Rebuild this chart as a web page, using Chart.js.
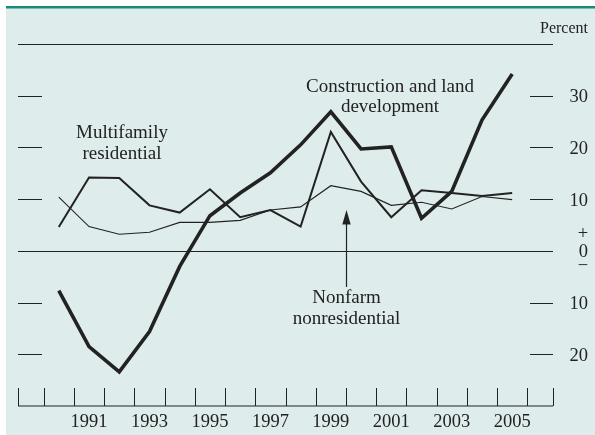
<!DOCTYPE html>
<html>
<head>
<meta charset="utf-8">
<script src="https://cdn.jsdelivr.net/npm/chart.js@4/dist/chart.umd.min.js"></script>
<style>
  html, body { margin: 0; padding: 0; background: #ffffff; }
  canvas { display: block; }
</style>
</head>
<body>
<canvas id="c" width="595" height="435"></canvas>
<script>
// ---- Data (percent change) ----
const years = [1990, 1991, 1992, 1993, 1994, 1995, 1996, 1997, 1998, 1999, 2000, 2001, 2002, 2003, 2004, 2005];
const constructionLand = [-7.7, -18.5, -23.4, -15.6, -3.0, 6.8, 11.2, 15.1, 20.5, 26.9, 19.7, 20.1, 6.3, 11.5, 25.3, 34.2];
const multifamily      = [4.6, 14.2, 14.1, 8.8, 7.4, 11.9, 6.5, 7.9, 4.7, 23.0, 13.4, 6.5, 11.7, 11.2, 10.6, 11.2];
const nonfarm          = [10.4, 4.7, 3.2, 3.6, 5.5, 5.5, 5.9, 7.9, 8.5, 12.6, 11.5, 8.8, 9.4, 8.1, 10.5, 9.9];

// ---- Tick labels ----
const xTickLabels = ['1991', '1993', '1995', '1997', '1999', '2001', '2003', '2005'];
const xTickBoundaries = [1989.5, 1990.5, 1991.5, 1992.5, 1993.5, 1994.5, 1995.5, 1996.5, 1997.5, 1998.5, 1999.5, 2000.5, 2001.5, 2002.5, 2003.5, 2004.5, 2005.5];
const yTickValues = [30, 20, 10, 0, -10, -20];
const yTickLabels = ['30', '20', '10', '0', '10', '20'];

const SERIF = '"Liberation Serif", "Times New Roman", serif';
const INK = '#222222';

function toPoints(vals) { return years.map((y, i) => ({ x: y, y: vals[i] })); }

const decor = {
  id: 'decor',
  beforeDraw(chart) {
    const ctx = chart.ctx;
    ctx.save();
    ctx.fillStyle = '#ffffff';
    ctx.fillRect(0, 0, chart.width, chart.height);
    ctx.fillStyle = '#dfecec';
    ctx.fillRect(6, 8, chart.width - 6, chart.height - 8);
    ctx.fillStyle = '#1b8c7a';
    ctx.fillRect(6, 6, chart.width - 6, 2.5);
    ctx.restore();
  },
  beforeDatasetsDraw(chart) {
    const ctx = chart.ctx;
    const xs = chart.scales.x, ys = chart.scales.y;
    const L = chart.chartArea.left, R = chart.chartArea.right;
    const T = chart.chartArea.top, B = chart.chartArea.bottom;
    ctx.save();
    ctx.strokeStyle = INK;
    ctx.lineWidth = 1.2;
    // top rule and zero line
    ctx.beginPath();
    ctx.moveTo(L, Math.round(ys.getPixelForValue(40)) + 0.5);
    ctx.lineTo(R, Math.round(ys.getPixelForValue(40)) + 0.5);
    const y0 = Math.round(ys.getPixelForValue(0)) + 0.5;
    ctx.moveTo(L, y0); ctx.lineTo(R, y0);
    // bottom axis
    ctx.moveTo(L, B); ctx.lineTo(R, B);
    ctx.stroke();
    // bottom ticks (edges + year boundaries)
    ctx.lineWidth = 1;
    ctx.beginPath();
    const edges = [xs.getPixelForValue(xs.min), xs.getPixelForValue(xs.max)];
    edges.concat(xTickBoundaries.map(v => xs.getPixelForValue(v))).forEach(px => {
      const p = Math.round(px) + 0.5;
      ctx.moveTo(p, B); ctx.lineTo(p, B - 18);
    });
    ctx.stroke();
    // left and right y tick marks
    ctx.lineWidth = 1.2;
    ctx.beginPath();
    yTickValues.forEach(v => {
      const p = Math.round(ys.getPixelForValue(v)) + 0.5;
      if (v !== 0) { ctx.moveTo(L, p); ctx.lineTo(L + 24, p); }
      ctx.moveTo(R - 23, p); ctx.lineTo(R, p);
    });
    ctx.stroke();
    // labels
    ctx.fillStyle = INK;
    ctx.font = '18.5px ' + SERIF;
    ctx.textAlign = 'center';
    ctx.textBaseline = 'alphabetic';
    xTickLabels.forEach(t => {
      ctx.fillText(t, xs.getPixelForValue(Number(t)), B + 21);
    });
    ctx.textAlign = 'right';
    yTickValues.forEach((v, i) => {
      ctx.fillText(yTickLabels[i], 588, ys.getPixelForValue(v) + 6.5);
    });
    ctx.textAlign = 'center';
    ctx.fillText('+', 583, ys.getPixelForValue(0) - 12);
    ctx.fillText('\u2212', 583, ys.getPixelForValue(0) + 20);
    ctx.font = '16px ' + SERIF;
    ctx.textAlign = 'right';
    ctx.fillText('Percent', 588, 33);
    // annotations
    ctx.font = '19px ' + SERIF;
    ctx.textAlign = 'center';
    ctx.fillText('Construction and land', 390, 92);
    ctx.fillText('development', 390, 112);
    ctx.fillText('Multifamily', 122, 138);
    ctx.fillText('residential', 122, 159);
    ctx.fillText('Nonfarm', 346.5, 303);
    ctx.fillText('nonresidential', 346.5, 324);
    // arrow
    ctx.lineWidth = 1.2;
    ctx.beginPath();
    ctx.moveTo(346.5, 287); ctx.lineTo(346.5, 222);
    ctx.stroke();
    ctx.beginPath();
    ctx.moveTo(346.5, 210); ctx.lineTo(342.3, 224.5); ctx.lineTo(350.7, 224.5); ctx.closePath();
    ctx.fill();
    ctx.restore();
  }
};

new Chart(document.getElementById('c'), {
  type: 'line',
  data: {
    datasets: [
      { label: 'Nonfarm nonresidential', data: toPoints(nonfarm), borderColor: INK, borderWidth: 1.1 },
      { label: 'Multifamily residential', data: toPoints(multifamily), borderColor: INK, borderWidth: 2 },
      { label: 'Construction and land development', data: toPoints(constructionLand), borderColor: INK, borderWidth: 3.6 }
    ]
  },
  options: {
    responsive: false,
    animation: false,
    devicePixelRatio: 1,
    layout: { padding: { left: 18, right: 42, top: 44, bottom: 29 } },
    elements: { point: { radius: 0 }, line: { tension: 0, borderJoinStyle: 'miter', borderCapStyle: 'butt' } },
    plugins: { legend: { display: false }, tooltip: { enabled: false }, title: { display: false } },
    scales: {
      x: { type: 'linear', min: 1988.65, max: 2006.35, display: false },
      y: { type: 'linear', min: -30, max: 40, display: false }
    }
  },
  plugins: [decor]
});
</script>
</body>
</html>
